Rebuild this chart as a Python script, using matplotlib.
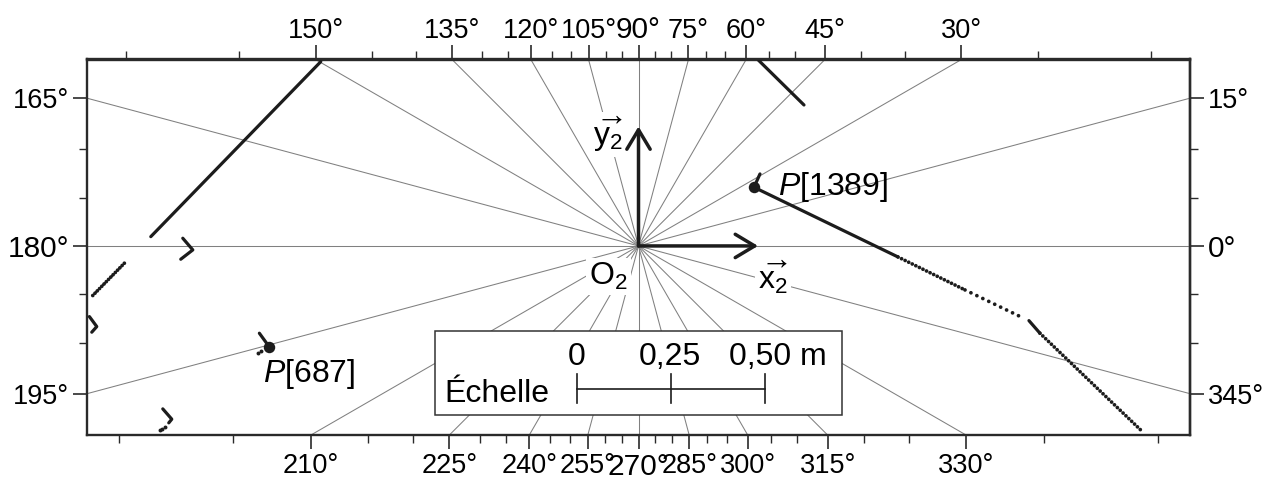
import numpy as np
import matplotlib
matplotlib.use("Agg")
import matplotlib.pyplot as plt
from matplotlib.patches import Rectangle

plt.rcParams['font.family'] = ['Liberation Sans', 'DejaVu Sans']
plt.rcParams['mathtext.fontset'] = 'custom'
plt.rcParams['mathtext.rm'] = 'Liberation Sans'
plt.rcParams['mathtext.it'] = 'Liberation Sans:italic'
plt.rcParams['mathtext.bf'] = 'Liberation Sans:bold'

# ---------------- data (metres, sensor frame O2) ----------------
ray_angles = list(range(0, 360, 15))          # grey radial lines + labelled ticks
minor_angles = list(range(0, 360, 5))         # minor ticks
big_label_angles = [0, 90, 180, 270]

# scan segments drawn dense (solid)
seg_top_left = [(-0.8452, 0.4902), (-1.2973, 0.0247)]
seg_hook1 = [(-1.2122, 0.0205), (-1.1856, -0.0106), (-1.2176, -0.0354)]
seg_hook2 = [(-1.4606, -0.1880), (-1.4410, -0.2146), (-1.4543, -0.2295)]
seg_p687 = [(-1.0085, -0.2322), (-0.9827, -0.2678)]
seg_hook3 = [(-1.2654, -0.4335), (-1.2415, -0.4609), (-1.2495, -0.4707)]
seg_top_right = [(0.3186, 0.4947), (0.4402, 0.3750)]
seg_p1389_up = [(0.3072, 0.1561), (0.3231, 0.1915)]
seg_p1389_wall = [(0.3072, 0.1561), (0.6902, -0.0293)]
seg_low_right_start = [(1.0386, -0.1987), (1.0678, -0.2322)]
solid_segments = [seg_top_left, seg_hook1, seg_hook2, seg_p687, seg_hook3,
                  seg_top_right, seg_p1389_up, seg_p1389_wall, seg_low_right_start]

# scan segments drawn sparse (dotted), with their dot gap
seg_left_dotted = [(-1.3676, -0.0460), (-1.4561, -0.1364)]
seg_wall_dots1 = [(0.6902, -0.0293), (0.8684, -0.1170)]
seg_wall_dots2 = [(0.8684, -0.1170), (1.0173, -0.1888)]
seg_low_right = [(1.0678, -0.2322), (1.3383, -0.4920)]
dotted_segments = [(seg_left_dotted, 0.85), (seg_wall_dots1, 1.05),
                   (seg_wall_dots2, 1.75), (seg_low_right, 1.05)]

# isolated scan points
lone_points_x = [-1.0040, -1.0120, -1.2593, -1.2665, -1.2726]
lone_points_y = [-0.2793, -0.2854, -0.4806, -0.4859, -0.4894]

# highlighted points
p_names = ['P[687]', 'P[1389]']
p_x = [-0.9827, 0.3072]
p_y = [-0.2678, 0.1561]

axis_len = 0.318
scale_ticks = [0.0, 0.25, 0.50]
scale_labels = ['0', '0,25', '0,50 m']

XMIN, XMAX, YMIN, YMAX = -1.467, 1.467, -0.503, 0.496

# ---------------- figure ----------------
W, H = 1273, 479
fig = plt.figure(figsize=(W / 100, H / 100), dpi=100)
ax = fig.add_axes([87 / W, 1 - 435 / H, 1103 / W, 375.5 / H])
ax.set_xlim(XMIN, XMAX)
ax.set_ylim(YMIN, YMAX)

ink = '#1c1c1c'
grey = '#808080'

for a in ray_angles:
    r = np.deg2rad(a)
    ax.plot([0, 5 * np.cos(r)], [0, 5 * np.sin(r)], color=grey, lw=0.75,
            zorder=1, solid_capstyle='butt')

for seg in solid_segments:
    xs, ys = zip(*seg)
    ax.plot(xs, ys, color=ink, lw=2.3, zorder=3, solid_capstyle='round',
            solid_joinstyle='round')

for seg, gap in dotted_segments:
    xs, ys = zip(*seg)
    ax.plot(xs, ys, color=ink, lw=2.7, zorder=3, dash_capstyle='round',
            linestyle=(0, (0.01, gap)))

ax.scatter(lone_points_x, lone_points_y, s=8, color=ink, zorder=3, lw=0)
ax.scatter(p_x, p_y, s=68, color=ink, zorder=4, lw=0)

# axes arrows
arrow_kw = dict(arrowstyle='->,head_length=0.7,head_width=0.42', lw=2.5,
                color=ink, shrinkA=0, shrinkB=0, mutation_scale=20)
ax.annotate('', xy=(axis_len, 0), xytext=(0, 0), arrowprops=arrow_kw, zorder=5)
ax.annotate('', xy=(0, axis_len), xytext=(0, 0), arrowprops=arrow_kw, zorder=5)

wbox = dict(facecolor='white', edgecolor='none', pad=2)
fs = 23
ax.text(-0.080, 0.296, r'$\overrightarrow{\mathrm{y}_2}$', fontsize=fs,
        ha='center', va='center', bbox=wbox, zorder=4)
ax.text(0.358, -0.082, r'$\overrightarrow{\mathrm{x}_2}$', fontsize=fs,
        ha='center', va='center', bbox=wbox, zorder=4)
ax.text(-0.080, -0.082, r'$\mathrm{O}_2$', fontsize=fs,
        ha='center', va='center', bbox=wbox, zorder=4)

ax.text(-0.9987, -0.3617, r'$P$[687]', fontsize=fs, ha='left', va='baseline', zorder=4)
ax.text(0.372, 0.1356, r'$P$[1389]', fontsize=fs, ha='left', va='baseline', zorder=4)

# scale legend
ax.add_patch(Rectangle((-0.541, -0.449), 1.082, 0.223, facecolor='white',
                       edgecolor='#333333', lw=1.1, zorder=6))
s0 = -0.1636
sy = -0.380
ax.plot([s0 + scale_ticks[0], s0 + scale_ticks[-1]], [sy, sy], color=ink, lw=1.2, zorder=7)
for t in scale_ticks:
    ax.plot([s0 + t, s0 + t], [sy - 0.039, sy + 0.039], color=ink, lw=1.2, zorder=7)
ax.text(s0 + scale_ticks[0], -0.3165, scale_labels[0], fontsize=fs, ha='center', va='baseline', zorder=7)
ax.text(s0 + scale_ticks[1] - 0.004, -0.3165, scale_labels[1], fontsize=fs, ha='center', va='baseline', zorder=7)
ax.text(s0 + scale_ticks[2] - 0.0957, -0.3165, scale_labels[2], fontsize=fs, ha='left', va='baseline', zorder=7)
ax.text(-0.517, -0.415, 'Échelle', fontsize=fs, ha='left', va='baseline', zorder=7)

# ---------------- angular ticks on the frame ----------------
def edge_hit(a):
    r = np.deg2rad(a)
    c, s = np.cos(r), np.sin(r)
    cands = []
    if c > 1e-12:
        cands.append((XMAX / c, 'right'))
    if c < -1e-12:
        cands.append((XMIN / c, 'left'))
    if s > 1e-12:
        cands.append((YMAX / s, 'top'))
    if s < -1e-12:
        cands.append((YMIN / s, 'bottom'))
    t, side = min(cands)
    return side, t * c, t * s

sides = {k: {'major': [], 'labels': [], 'minor': [], 'angles': []}
         for k in ['top', 'bottom', 'left', 'right']}
for a in minor_angles:
    side, x, y = edge_hit(a)
    pos = x if side in ('top', 'bottom') else y
    if a in ray_angles:
        sides[side]['major'].append(pos)
        sides[side]['labels'].append(f'{a}°')
        sides[side]['angles'].append(a)
    else:
        sides[side]['minor'].append(pos)

top = ax.secondary_xaxis('top')
right = ax.secondary_yaxis('right')
axes_for = {'bottom': ax.xaxis, 'left': ax.yaxis, 'top': top.xaxis, 'right': right.yaxis}
for side, axis in axes_for.items():
    d = sides[side]
    axis.set_ticks(d['major'])
    axis.set_ticklabels(d['labels'])
    axis.set_ticks(d['minor'], minor=True)
    for lab, a in zip(axis.get_ticklabels(), d['angles']):
        lab.set_fontsize(21.5 if a in big_label_angles else 19.5)

for a_ in (ax, top, right):
    a_.tick_params(which='major', direction='out', length=10, width=1.2,
                   color='#2a2a2a', pad=3)
    a_.tick_params(which='minor', direction='out', length=5.5, width=1.0,
                   color='#2a2a2a')
top.tick_params(which='major', pad=1.5)
for a_ in (ax, top, right):
    for sp in a_.spines.values():
        sp.set_linewidth(1.7)
        sp.set_color('#2a2a2a')

fig.savefig('out.png', dpi=100)
